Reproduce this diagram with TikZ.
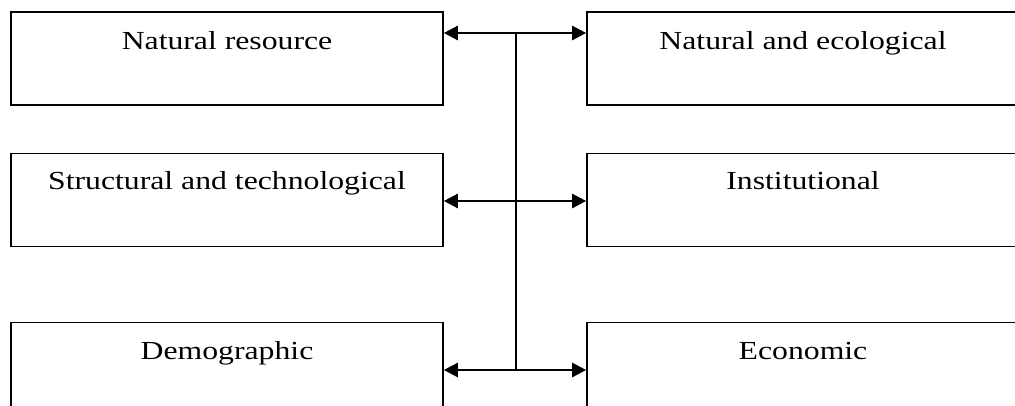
\documentclass[tikz,border=0pt]{standalone}
\usepackage{fontspec}
\setmainfont{Liberation Serif}
\usepackage{graphicx}
\usetikzlibrary{arrows.meta}
\tikzset{
  box/.style={draw=black, line width=1.6pt, minimum width=432pt, minimum height=93pt, inner sep=0pt},
  lbl/.style={anchor=base, inner sep=0pt, font=\fontsize{26}{30}\selectfont},
  arr/.style={line width=2.4pt, {Triangle[length=14pt,width=14pt]}-{Triangle[length=14pt,width=14pt]}},
  vline/.style={line width=1.6pt}
}
\newcommand{\wtext}[1]{\scalebox{1.22}[1]{#1}}
\begin{document}
\begin{tikzpicture}[x=1pt,y=1pt]
\useasboundingbox (0,0) rectangle (1015,-405);
\clip (0,0) rectangle (1015,-405);
\fill[white] (0,0) rectangle (1015,-405);
\node[box] (L1) at (227,-58.5) {};
\node[box] (R1) at (803,-58.5) {};
\node[box] (L2) at (227,-200) {};
\node[box] (R2) at (803,-200) {};
\node[box] (L3) at (227,-369) {};
\node[box] (R3) at (803,-369) {};
\node[lbl] (t1) at ([yshift=-38pt]L1.north) {\wtext{Natural resource}};
\node[lbl] (t2) at ([yshift=-38pt]R1.north) {\wtext{Natural and ecological}};
\node[lbl] (t3) at ([yshift=-37pt]L2.north) {\wtext{Structural and technological}};
\node[lbl] (t4) at ([yshift=-37pt]R2.north) {\wtext{Institutional}};
\node[lbl] (t5) at ([yshift=-38pt]L3.north) {\wtext{Demographic}};
\node[lbl] (t6) at ([yshift=-38pt]R3.north) {\wtext{Economic}};
\coordinate (ctop) at (516,-33);
\coordinate (cmid) at (516,-201);
\coordinate (cbot) at (516,-370);
\draw[vline] (ctop) -- (cbot);
\draw[arr] (L1.east |- ctop) -- (R1.west |- ctop);
\draw[arr] (L2.east |- cmid) -- (R2.west |- cmid);
\draw[arr] (L3.east |- cbot) -- (R3.west |- cbot);
\end{tikzpicture}
\end{document}
